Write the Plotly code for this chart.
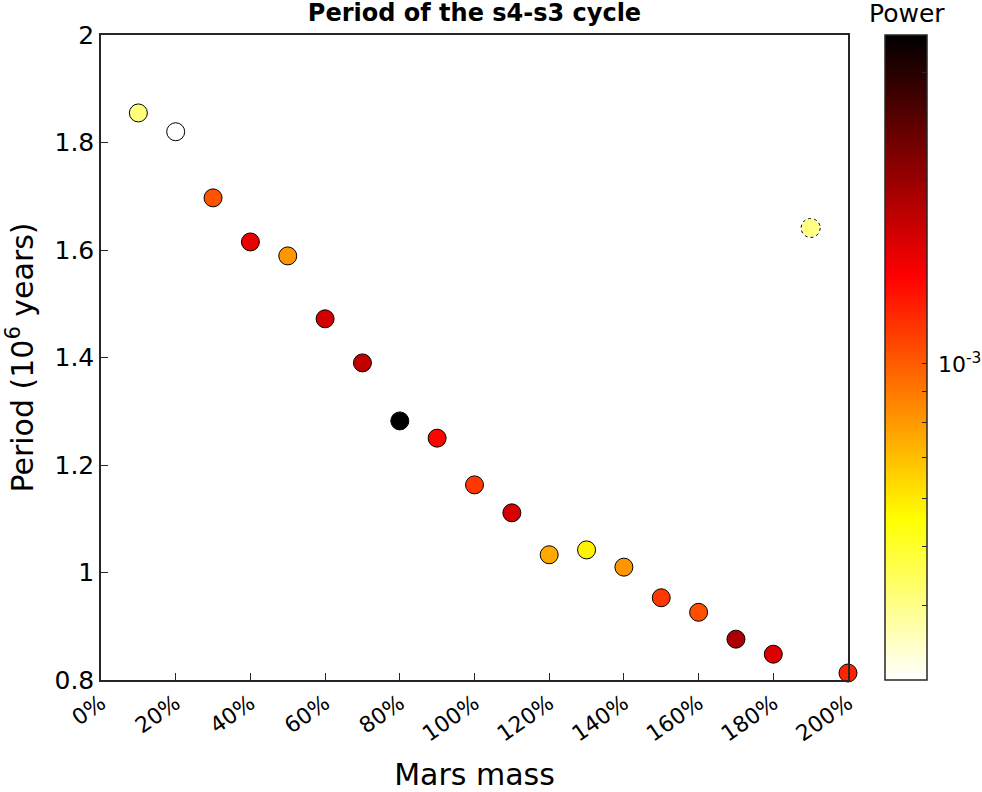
import numpy as np
import plotly.graph_objects as go

mars_mass_pct = [10, 20, 30, 40, 50, 60, 70, 80, 90, 100,
                 110, 120, 130, 140, 150, 160, 170, 180, 190, 200]
period_myr = [1.855, 1.820, 1.697, 1.615, 1.589, 1.472, 1.390, 1.282, 1.250, 1.163,
              1.111, 1.033, 1.042, 1.010, 0.953, 0.926, 0.876, 0.848, 1.641, 0.813]
power = [4.15e-4, 2.5e-4, 1.03e-3, 1.49e-3, 8.1e-4, 1.63e-3, 1.72e-3, 3.6e-3, 1.37e-3, 1.14e-3,
         1.60e-3, 7.6e-4, 5.8e-4, 8.1e-4, 1.14e-3, 1.05e-3, 1.88e-3, 1.57e-3, 4.07e-4, 1.22e-3]
dashed_points = [190]  # points drawn with dashed outline

x_ticks = [0, 20, 40, 60, 80, 100, 120, 140, 160, 180, 200]
y_ticks = [0.8, 1.0, 1.2, 1.4, 1.6, 1.8, 2.0]
y_ticklabels = ["0.8", "1", "1.2", "1.4", "1.6", "1.8", "2"]
cbar_ticks = [4e-4, 5e-4, 6e-4, 7e-4, 8e-4, 9e-4, 1e-3, 2e-3, 3e-3]
cbar_label_value = 1e-3
cbar_label_text = "10<sup>-3</sup>"
cbar_min, cbar_max = 3.02e-4, 3.46e-3

# reversed MATLAB "hot"
hot_r = [[0.0, "rgb(255,255,255)"], [0.25, "rgb(255,255,0)"],
         [0.625, "rgb(255,0,0)"], [1.0, "rgb(0,0,0)"]]

logp = np.log10(power)
lmin, lmax = np.log10(cbar_min), np.log10(cbar_max)
FONT = "DejaVu Sans"

W, H = 982, 792
L, T, PW, PH = 101, 35, 747, 645

line_w = [0 if m in dashed_points else 1 for m in mars_mass_pct]

fig = go.Figure()
fig.add_trace(go.Scatter(
    x=mars_mass_pct, y=period_myr, mode="markers", cliponaxis=False,
    marker=dict(size=18, color=logp, colorscale=hot_r, cmin=lmin, cmax=lmax,
                line=dict(color="black", width=line_w),
                colorbar=dict(
                    tickmode="array",
                    tickvals=list(np.log10(cbar_ticks)),
                    ticktext=["" for _ in cbar_ticks],
                    ticks="inside", ticklen=5, tickcolor="#262626",
                    tickfont=dict(size=22, family=FONT, color="black"),
                    thickness=42, thicknessmode="pixels",
                    len=1.0, lenmode="fraction", y=0.5, yanchor="middle",
                    x=(885 - L) / PW, xanchor="left", xpad=0, ypad=0,
                    outlinewidth=1.5, outlinecolor="#262626",
                )),
    showlegend=False, hoverinfo="x+y",
))

for m, p in zip(mars_mass_pct, period_myr):
    if m in dashed_points:
        fig.add_shape(type="circle", xref="x", yref="y",
                      xsizemode="pixel", ysizemode="pixel",
                      xanchor=m, yanchor=p, x0=-9.5, x1=9.5, y0=-9.5, y1=9.5,
                      line=dict(color="black", width=1, dash="dot"))

# colorbar major tick label (placed at its value on the log colour scale)
fig.add_annotation(text=cbar_label_text, xref="paper", yref="paper",
                   x=(936 - L) / PW, y=(np.log10(cbar_label_value) - lmin) / (lmax - lmin),
                   xanchor="left", yanchor="middle", showarrow=False,
                   font=dict(size=22, family=FONT, color="black"))

fig.add_annotation(text="Power", xref="paper", yref="paper",
                   x=(907 - L) / PW, y=1 + (T - 14) / PH, xanchor="center", yanchor="middle",
                   showarrow=False, font=dict(size=25, family=FONT, color="black"))

fig.update_layout(
    width=W, height=H,
    margin=dict(l=L, r=W - L - PW, t=T, b=H - T - PH),
    paper_bgcolor="white", plot_bgcolor="white",
    font=dict(family=FONT, color="black"),
    title=dict(text="<b>Period of the s4-s3 cycle</b>", x=(L + PW / 2) / W, xanchor="center",
               y=1 - 13 / H, yanchor="middle", font=dict(size=24, family=FONT, color="black")),
)
fig.update_xaxes(
    range=[0, 200], tickmode="array", tickvals=x_ticks,
    ticktext=[f"{v}%" for v in x_ticks], tickangle=-35,
    ticks="inside", ticklen=7, tickcolor="#262626",
    showline=True, linecolor="#262626", linewidth=1.5, mirror=True,
    showgrid=False, zeroline=False, automargin=False,
    tickfont=dict(size=22, family=FONT),
    title=dict(text="Mars mass", font=dict(size=30, family=FONT), standoff=25),
)
fig.update_yaxes(
    range=[0.8, 2.0], tickmode="array", tickvals=y_ticks, ticktext=y_ticklabels,
    ticks="inside", ticklen=7, tickcolor="#262626",
    showline=True, linecolor="#262626", linewidth=1.5, mirror=True,
    showgrid=False, zeroline=False, automargin=False,
    tickfont=dict(size=25, family=FONT),
    title=dict(text="Period (10<sup>6</sup> years)", font=dict(size=30, family=FONT), standoff=12),
)

fig.write_html("out.html", config={"displayModeBar": False},
               post_script="document.body.style.margin='0';document.body.style.overflow='hidden';")
